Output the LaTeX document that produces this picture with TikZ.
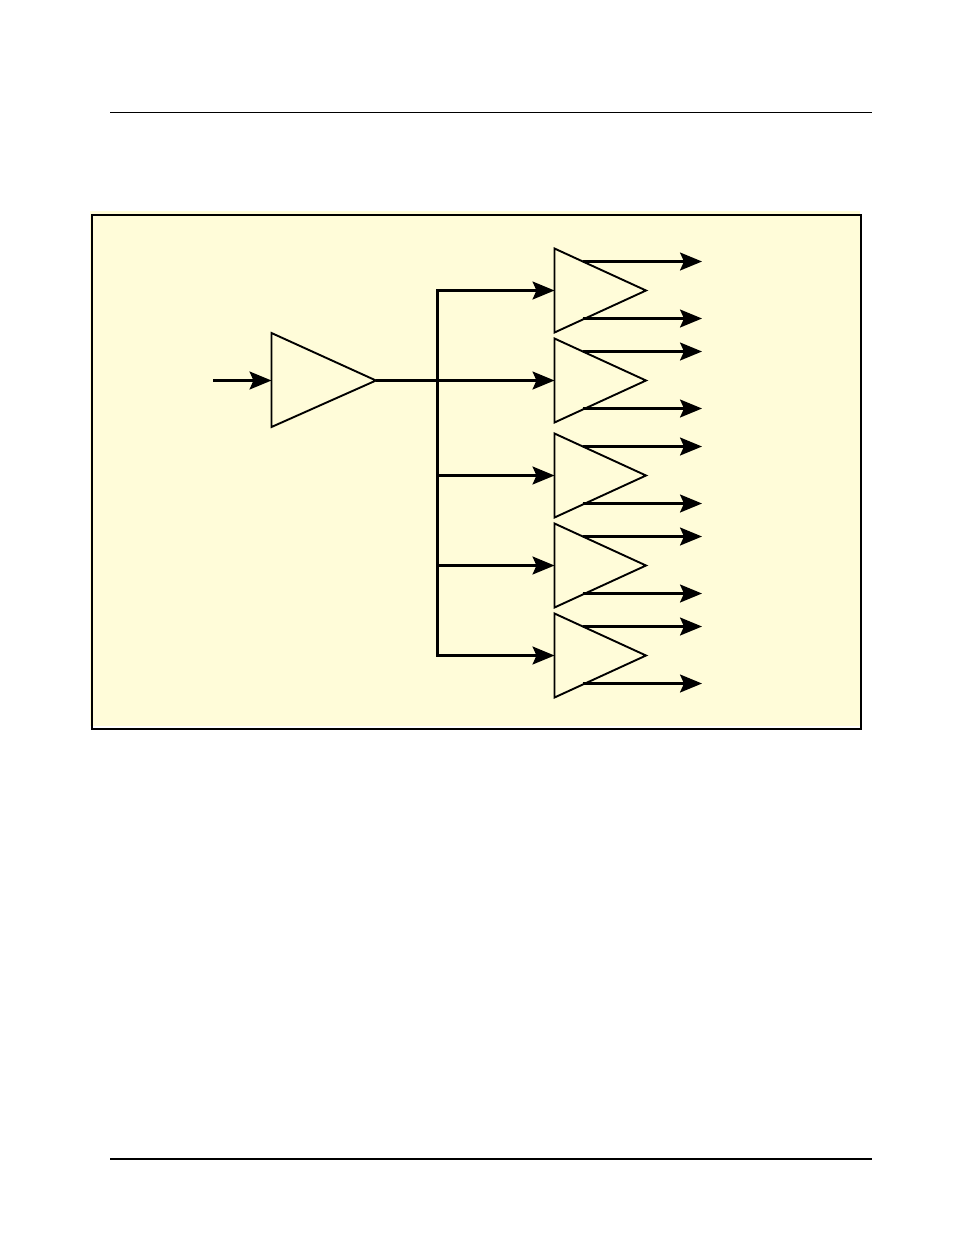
\documentclass[tikz,border=0pt]{standalone}
\usetikzlibrary{arrows.meta,calc}
\definecolor{panel}{RGB}{255,252,217}
\tikzset{
  tip/.tip={Stealth[length=22pt,width=18pt,inset=4pt]},
  wire/.style={line width=2.2pt,line join=miter},
  arr/.style={wire,-tip},
  barr/.style={wire,tip-tip},
  amp/.style={line width=1.9pt,line join=miter,draw=black},
  rule/.style={draw=black}
}
\begin{document}
\begin{tikzpicture}[x=1pt,y=-1pt]
\useasboundingbox (0,0) rectangle (954,1235);
% page rules
\coordinate (rt1) at (110,112.5);
\coordinate (rt2) at (872,112.5);
\coordinate (rb1) at (110,1159);
\coordinate (rb2) at (872,1159);
\draw[rule,line width=1.2pt] (rt1) -- (rt2);
\draw[rule,line width=2.2pt] (rb1) -- (rb2);
% panel
\fill[panel] (90,211) rectangle (860,725.5);
\draw[line width=2.2pt] (92,215) rectangle (861,729);
% main amplifier
\coordinate (m-top) at (271.5,333);
\coordinate (m-bot) at (271.5,427);
\coordinate (m-in) at (271.5,380.5);
\coordinate (m-out) at (376,380.5);
\coordinate (src) at (213,380.5);
\coordinate (m-bus) at (437.5,380.5);
\draw[amp] (m-top) -- (m-out) -- (m-bot) -- cycle;
\draw[arr] (src) -- (m-in);
% small amplifiers
\foreach \i/\c in {1/290.5,2/380.5,3/475.5,4/565.5,5/655.5}{
  \coordinate (a\i-top) at (554.5,\c-42);
  \coordinate (a\i-bot) at (554.5,\c+42);
  \coordinate (a\i-in) at (554.5,\c);
  \coordinate (a\i-out) at (646,\c);
  \coordinate (a\i-o1) at (582.5,\c-29);
  \coordinate (a\i-o2) at (582.5,\c+28);
  \coordinate (a\i-t1) at (702,\c-29);
  \coordinate (a\i-t2) at (702,\c+28);
  \coordinate (b\i) at (437.5,\c);
  \draw[amp] (a\i-top) -- (a\i-out) -- (a\i-bot) -- cycle;
  \draw[arr] (a\i-o1) -- (a\i-t1);
  \draw[arr] (a\i-o2) -- (a\i-t2);
}
% distribution bus
\draw[arr] (m-out) -- (a2-in);
\draw[barr] (a1-in) -| (m-bus) |- (a5-in);
\draw[arr] (b3) -- (a3-in);
\draw[arr] (b4) -- (a4-in);
\end{tikzpicture}
\end{document}
